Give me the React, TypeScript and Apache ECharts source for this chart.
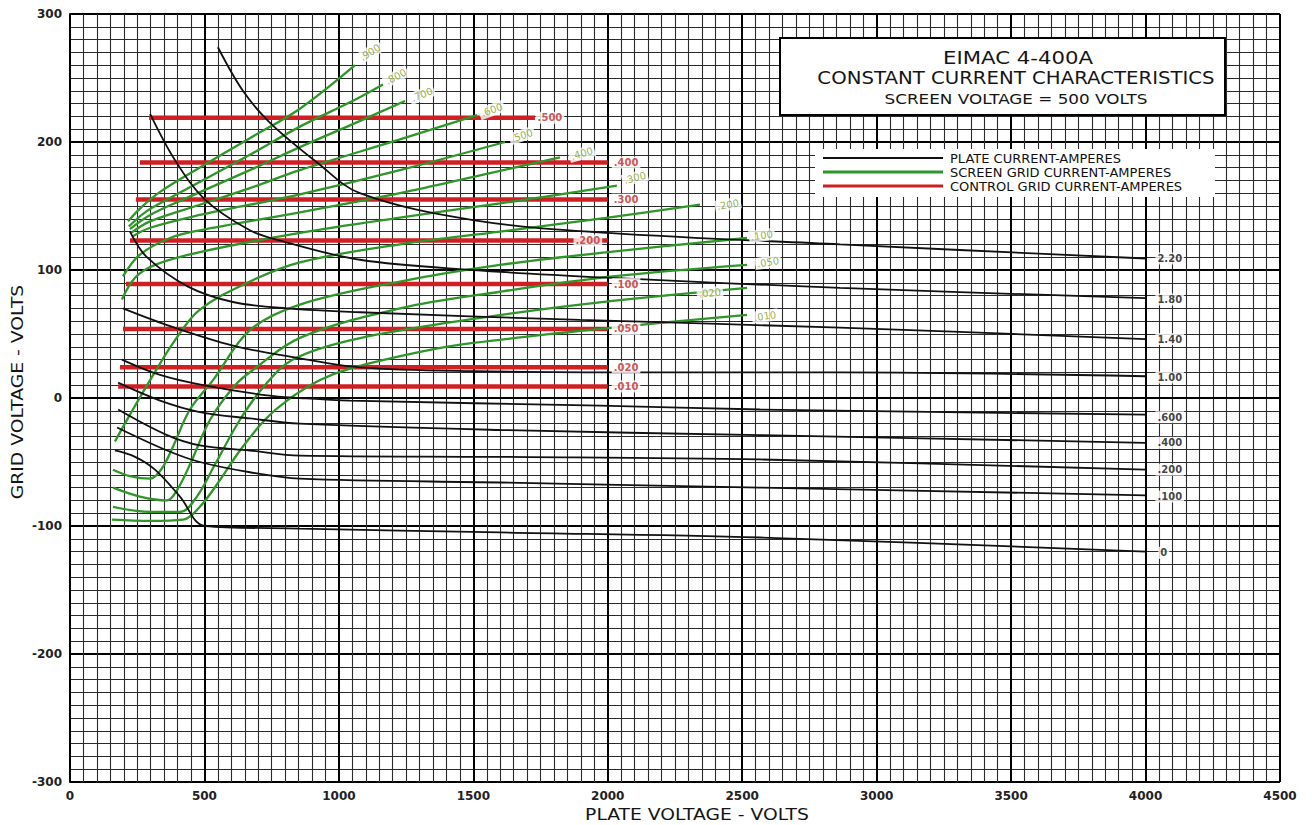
import React, { useEffect, useRef } from "react";
import * as echarts from "echarts";

// ---- axes ----
const xMin = 0, xMax = 4500, xStep = 500;
const yMin = -300, yMax = 300, yStep = 100;

// ---- plate current curves (black): [plate volts, grid volts] ----
const plate220 = [[550, 274], [643, 240], [744, 215], [919, 184], [1078, 160], [1499, 139], [2001, 129], [2864, 120], [4000, 109]];
const plate180 = [[298, 222], [390, 186], [502, 155], [669, 131], [781, 123], [1078, 108], [1499, 100], [1997, 94], [2864, 86], [4000, 78]];
const plate140 = [[223, 130], [286, 110], [439, 87], [606, 75], [807, 70], [1078, 67], [1897, 61], [2864, 55], [4000, 46]];
const plate100 = [[197, 70], [361, 57], [606, 41], [855, 31], [1078, 24], [1499, 21], [2120, 20], [2864, 20], [4000, 17]];
const plate060 = [[193, 30], [335, 18], [495, 10], [733, 2], [855, 0], [1041, -2], [1971, -6], [2566, -9], [4000, -13]];
const plate040 = [[179, 12], [335, -2], [483, -11], [669, -16], [855, -20], [1599, -25], [2566, -29], [4000, -35]];
const plate020 = [[179, -9], [361, -29], [483, -37], [669, -41], [855, -45], [1599, -46], [2566, -48], [4000, -56]];
const plate010 = [[175, -23], [361, -41], [483, -50], [669, -58], [855, -63], [1599, -66], [2566, -70], [4000, -76]];
const plate000 = [[167, -41], [242, -46], [316, -56], [409, -77], [502, -100], [855, -102], [1600, -105], [2566, -109], [4000, -120]];
const plateCurves = [plate220, plate180, plate140, plate100, plate060, plate040, plate020, plate010, plate000];
const plateLabels = ["2.20", "1.80", "1.40", "1.00", ".600", ".400", ".200", ".100", "0"];
const plateLabelAt = [[4090, 109], [4090, 77], [4090, 46], [4090, 16], [4090, -15], [4090, -35], [4090, -56], [4090, -77], [4068, -121]];

// ---- screen grid current curves (green) ----
const screen900 = [[216, 138], [260, 148], [335, 161], [483, 180], [669, 203], [855, 226], [1060, 260]];
const screen800 = [[219, 134], [279, 145], [361, 155], [669, 190], [855, 212], [1041, 231], [1164, 245]];
const screen700 = [[223, 132], [298, 143], [420, 155], [669, 178], [855, 196], [1041, 213], [1246, 232]];
const screen600 = [[227, 129], [298, 138], [483, 151], [669, 164], [855, 178], [1227, 202], [1514, 221]];
const screen500 = [[231, 126], [298, 133], [483, 143], [669, 151], [855, 159], [1227, 178], [1618, 200]];
const screen400 = [[197, 95], [260, 112], [372, 125], [483, 131], [855, 145], [1227, 160], [1525, 174], [1822, 188]];
const screen300 = [[193, 77], [242, 94], [316, 104], [483, 114], [855, 129], [1227, 141], [1599, 152], [2034, 166]];
const screen200 = [[167, -34], [223, -13], [298, 14], [390, 45], [483, 69], [669, 91], [855, 106], [1227, 120], [1599, 130], [2001, 141], [2343, 151]];
const screen100 = [[160, -56], [223, -61], [298, -63], [342, -55], [383, -38], [446, -9], [532, 14], [669, 53], [855, 73], [1227, 91], [1599, 104], [2001, 114], [2518, 125]];
const screen050 = [[160, -70], [260, -77], [361, -80], [398, -72], [446, -52], [521, -17], [614, 10], [681, 22], [855, 47], [1227, 70], [1599, 83], [2019, 95], [2518, 104]];
const screen020 = [[160, -85], [298, -89], [409, -89], [472, -77], [539, -52], [632, -17], [725, 10], [829, 30], [1041, 45], [1413, 59], [1897, 73], [2518, 86]];
const screen010 = [[156, -95], [298, -96], [420, -95], [483, -85], [558, -64], [632, -41], [725, -17], [807, -2], [930, 14], [1041, 23], [1302, 36], [1499, 43], [2019, 55], [2518, 65]];
const screenCurves = [screen900, screen800, screen700, screen600, screen500, screen400, screen300, screen200, screen100, screen050, screen020, screen010];
const screenLabels = [".900", ".800", ".700", ".600", ".500", ".400", ".300", ".200", ".100", ".050", ".020", ".010"];
const screenLabelAt = [[1116, 270], [1212, 251], [1309, 237], [1569, 225], [1681, 205], [1904, 191], [2101, 172], [2447, 151], [2573, 127], [2596, 106], [2380, 82], [2585, 64]];
const screenLabelTilt = [32, 28, 22, 20, 18, 16, 14, 10, 8, 8, 6, 8];

// ---- control grid current (red): constant grid voltage lines ----
const ctrlLabels = [".500", ".400", ".300", ".200", ".100", ".050", ".020", ".010"];
const ctrlLevels = [219, 184, 155, 123, 89, 54, 24, 9];
const ctrlStarts = [294, 260, 245, 223, 208, 197, 186, 179];
const ctrlEnds = [1729, 2000, 2000, 2000, 2000, 2000, 2000, 2000];
const ctrlLabelAt = [[1785, 219], [2068, 184], [2068, 155], [1926, 123], [2068, 89], [2068, 54], [2068, 24], [2068, 9]];

const FONT = '"DejaVu Sans", sans-serif';

function labelSeries(pos: number[][], texts: string[], color: string, size: number, tilt?: number[], weight = "normal") {
  return {
    type: "scatter",
    symbolSize: 1,
    itemStyle: { color: "rgba(0,0,0,0)" },
    silent: true,
    z: 20,
    data: pos.map((p, i) => ({
      value: p,
      label: { formatter: texts[i], rotate: tilt ? tilt[i] : 0 },
    })),
    label: {
      show: true,
      position: "inside",
      color,
      fontSize: size,
      fontWeight: weight,
      fontFamily: FONT,
      backgroundColor: "#ffffff",
      padding: [1, 2],
    },
  };
}

function wideText(text: string, x: number, y: number, size: number, sx: number, extra: any = {}) {
  return {
    type: "text", z: 101, x, y, scaleX: sx, ...extra,
    style: { text, x: 0, y: 0, textAlign: "center", textVerticalAlign: "middle", font: `${size}px ${FONT}`, fill: "#151515" },
  };
}

export default function App() {
  const ref = useRef<HTMLDivElement>(null);
  useEffect(() => {
    if (!ref.current) return;
    const chart = echarts.init(ref.current, undefined, { renderer: "svg" });
    const series: any[] = [];
    ctrlLevels.forEach((lvl, i) => {
      series.push({
        type: "line", silent: true, showSymbol: false, symbol: "none", z: 3,
        data: [[ctrlStarts[i], lvl], [ctrlEnds[i], lvl]],
        lineStyle: { color: "#cf1f24", width: 4.5 },
      });
    });
    screenCurves.forEach((d) => {
      series.push({
        type: "line", silent: true, showSymbol: false, symbol: "none", z: 4,
        smooth: 0.35, data: d,
        lineStyle: { color: "#2f962a", width: 2.3 },
      });
    });
    plateCurves.forEach((d) => {
      series.push({
        type: "line", silent: true, showSymbol: false, symbol: "none", z: 5,
        smooth: 0.35, data: d,
        lineStyle: { color: "#111111", width: 1.8 },
      });
    });
    series.push(labelSeries(ctrlLabelAt, ctrlLabels, "#c62828", 10, undefined, "bold"));
    series.push(labelSeries(screenLabelAt, screenLabels, "#7d9c22", 10, screenLabelTilt));
    series.push(labelSeries(plateLabelAt, plateLabels, "#111111", 10, undefined, "bold"));

    const axisCommon = {
      axisLine: { show: true, lineStyle: { color: "#000", width: 2 } },
      axisTick: { show: false },
      axisLabel: { color: "#222", fontSize: 12, fontWeight: "bold", margin: 8, fontFamily: FONT, formatter: (v: number) => String(v) },
      splitLine: { show: true, lineStyle: { color: "#000", width: 2 } },
      minorTick: { show: false, splitNumber: 10 },
      minorSplitLine: { show: true, lineStyle: { color: "#2a2a2a", width: 1.1 } },
    };

    const option: any = {
      animation: false,
      backgroundColor: "#ffffff",
      grid: { left: 70, right: 32, top: 14, bottom: 43, containLabel: false },
      xAxis: { type: "value", min: xMin, max: xMax, interval: xStep, ...axisCommon },
      yAxis: { type: "value", min: yMin, max: yMax, interval: yStep, ...axisCommon },
      series,
      graphic: [
        { type: "rect", z: 100, shape: { x: 780, y: 38, width: 445, height: 77 }, style: { fill: "#fff", stroke: "#000", lineWidth: 2 } },
        wideText("EIMAC 4-400A", 1018, 58, 17, 1.25),
        wideText("CONSTANT CURRENT CHARACTERISTICS", 1016, 78, 17, 1.16),
        wideText("SCREEN VOLTAGE = 500 VOLTS", 1016, 99, 14, 1.2),
        { type: "rect", z: 100, shape: { x: 815, y: 149, width: 400, height: 48 }, style: { fill: "#fff" } },
        { type: "line", z: 101, shape: { x1: 823, y1: 158, x2: 943, y2: 158 }, style: { stroke: "#111", lineWidth: 2 } },
        { type: "line", z: 101, shape: { x1: 823, y1: 172, x2: 943, y2: 172 }, style: { stroke: "#2f962a", lineWidth: 3 } },
        { type: "line", z: 101, shape: { x1: 823, y1: 186, x2: 943, y2: 186 }, style: { stroke: "#cf1f24", lineWidth: 3 } },
        { type: "text", z: 101, style: { text: "PLATE CURRENT-AMPERES", x: 950, y: 158, textAlign: "left", textVerticalAlign: "middle", font: `13px ${FONT}`, fill: "#111" } },
        { type: "text", z: 101, style: { text: "SCREEN GRID CURRENT-AMPERES", x: 950, y: 172, textAlign: "left", textVerticalAlign: "middle", font: `13px ${FONT}`, fill: "#111" } },
        { type: "text", z: 101, style: { text: "CONTROL GRID CURRENT-AMPERES", x: 950, y: 186, textAlign: "left", textVerticalAlign: "middle", font: `13px ${FONT}`, fill: "#111" } },
        wideText("PLATE VOLTAGE - VOLTS", 697, 815, 15, 1.25),
        wideText("GRID VOLTAGE - VOLTS", 18, 392, 15, 1.25, { rotation: Math.PI / 2 }),
      ],
    };
    chart.setOption(option);
    return () => chart.dispose();
  }, []);
  return <div ref={ref} style={{ position: "fixed", left: 0, top: 0, width: 1312, height: 825, background: "#fff" }} />;
}
